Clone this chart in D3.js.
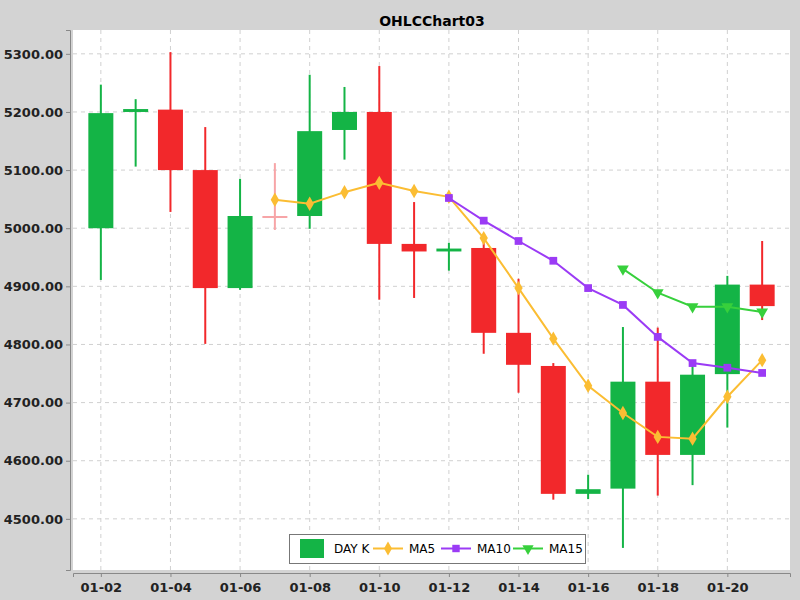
<!DOCTYPE html>
<html><head><meta charset="utf-8">
<script src="https://cdn.jsdelivr.net/npm/d3@7"></script>
<style>body{margin:0;background:#d3d3d3;font-family:"DejaVu Sans",sans-serif}</style>
</head><body><svg width="800" height="600"></svg>
<script>
const dates = ["01-02","01-03","01-04","01-05","01-06","01-07","01-08","01-09","01-10","01-11","01-12","01-13","01-14","01-15","01-16","01-17","01-18","01-19","01-20","01-21"];
const open  = [5000,5200,5204,5100,4897,5021,5021,5169,5200,4973,4960,4966,4820,4763,4543,4552,4736,4610,4749,4903];
const close = [5198,5205,5100,4897,5021,5021,5167,5200,4973,4960,4965,4820,4765,4543,4551,4736,4610,4748,4903,4866];
const high  = [5247,5222,5303,5174,5085,5112,5264,5243,5279,5045,4975,4985,4913,4768,4576,4830,4829,4765,4918,4978];
const low   = [4911,5106,5028,4801,4894,4997,4999,5118,4877,4880,4927,4784,4717,4533,4534,4450,4540,4558,4657,4842];
const ma5  = [null,null,null,null,null,5049,5042,5062,5078,5064,5054,4983,4897,4810,4729,4682,4641,4638,4710,4773];
const ma10 = [null,null,null,null,null,null,null,null,null,null,5052,5013,4978,4944,4897,4868,4813,4768,4760,4751];
const ma15 = [null,null,null,null,null,null,null,null,null,null,null,null,null,null,null,4930,4889,4865,4865,4856];
const yTicks = [4500,4600,4700,4800,4900,5000,5100,5200,5300];

const svg = d3.select("svg");
const L = 73, R = 790, T = 30, B = 570;
const x = d3.scaleLinear().domain([-0.8, 19.8]).range([L, R]);
const y = d3.scaleLinear().domain([4412, 5341]).range([B, T]);

svg.append("text").attr("x", 432).attr("y", 26).attr("text-anchor", "middle")
  .attr("font-weight", "bold").attr("font-size", 14).text("OHLCChart03");
svg.append("rect").attr("x", L).attr("y", T).attr("width", R - L).attr("height", B - T).attr("fill", "#fff");

// grid
svg.append("g").selectAll("line").data(yTicks).enter().append("line")
  .attr("x1", L).attr("x2", R).attr("y1", d => y(d)).attr("y2", d => y(d))
  .attr("stroke", "#d0d0d0").attr("stroke-dasharray", "4,4");
const xIdx = dates.map((d, i) => i).filter(i => i % 2 === 0);
svg.append("g").selectAll("line").data(xIdx).enter().append("line")
  .attr("x1", d => x(d)).attr("x2", d => x(d)).attr("y1", T).attr("y2", B)
  .attr("stroke", "#d0d0d0").attr("stroke-dasharray", "4,4");

// axes
const yAxis = d3.axisLeft(y).tickValues(yTicks).tickFormat(d3.format(".2f")).tickSize(4);
svg.append("g").attr("transform", `translate(${L - 3},0)`).call(yAxis)
  .call(g => g.selectAll("text").attr("font-size", 13).attr("font-weight", "bold").attr("fill", "#222").attr("font-family", "DejaVu Sans"))
  .call(g => g.select(".domain").attr("stroke", "#888"))
  .call(g => g.selectAll(".tick line").attr("stroke", "#888"));
const xAxis = d3.axisBottom(x).tickValues(xIdx).tickFormat(i => dates[i]).tickSize(4);
svg.append("g").attr("transform", `translate(0,${B + 3})`).call(xAxis)
  .call(g => g.selectAll("text").attr("font-size", 13).attr("font-weight", "bold").attr("fill", "#222").attr("font-family", "DejaVu Sans").attr("dy", "0.9em"))
  .call(g => g.select(".domain").attr("stroke", "#888"))
  .call(g => g.selectAll(".tick line").attr("stroke", "#888"));

// candles
const UP = "#14b446", DN = "#f2282b";
const col = i => close[i] > open[i] ? UP : (close[i] < open[i] ? DN : "#f7a5a7");
const cw = 25;
const idx = d3.range(dates.length);
svg.append("g").selectAll("line").data(idx).enter().append("line")
  .attr("x1", i => x(i)).attr("x2", i => x(i)).attr("y1", i => y(high[i])).attr("y2", i => y(low[i]))
  .attr("stroke", col).attr("stroke-width", 2);
svg.append("g").selectAll("rect").data(idx).enter().append("rect")
  .attr("x", i => x(i) - cw / 2).attr("width", cw)
  .attr("y", i => y(Math.max(open[i], close[i])))
  .attr("height", i => Math.max(2, Math.abs(y(open[i]) - y(close[i]))))
  .attr("fill", col);

// moving averages
const series = [
  {name: "MA5", vals: ma5, color: "#fbbd33", sym: d3.symbolDiamond},
  {name: "MA10", vals: ma10, color: "#9b3bf5", sym: d3.symbolSquare},
  {name: "MA15", vals: ma15, color: "#37d03c", sym: d3.symbolTriangle, flip: true}
];
const line = d3.line().defined(d => d.v !== null).x(d => x(d.i)).y(d => y(d.v));
series.forEach(s => {
  const pts = s.vals.map((v, i) => ({i, v}));
  svg.append("path").datum(pts).attr("d", line).attr("fill", "none")
    .attr("stroke", s.color).attr("stroke-width", 2);
  svg.append("g").selectAll("path").data(pts.filter(d => d.v !== null)).enter().append("path")
    .attr("d", d3.symbol(s.sym, 60))
    .attr("transform", d => `translate(${x(d.i)},${y(d.v)})` + (s.flip ? " rotate(180)" : ""))
    .attr("fill", s.color);
});

// legend
const lg = svg.append("g");
lg.append("rect").attr("x", 289.5).attr("y", 534.5).attr("width", 296).attr("height", 29)
  .attr("fill", "#fff").attr("stroke", "#777");
lg.append("rect").attr("x", 300).attr("y", 539).attr("width", 24).attr("height", 19).attr("fill", UP);
lg.append("text").attr("x", 334).attr("y", 553).attr("font-size", 12).text("DAY K");
const lx = [373, 441, 513];
series.forEach((s, k) => {
  lg.append("line").attr("x1", lx[k]).attr("x2", lx[k] + 30).attr("y1", 548.5).attr("y2", 548.5)
    .attr("stroke", s.color).attr("stroke-width", 2);
  lg.append("path").attr("d", d3.symbol(s.sym, 55))
    .attr("transform", `translate(${lx[k] + 15},548.5)` + (s.flip ? " rotate(180)" : ""))
    .attr("fill", s.color);
  lg.append("text").attr("x", lx[k] + 36).attr("y", 553).attr("font-size", 12).text(s.name);
});
</script></body></html>
